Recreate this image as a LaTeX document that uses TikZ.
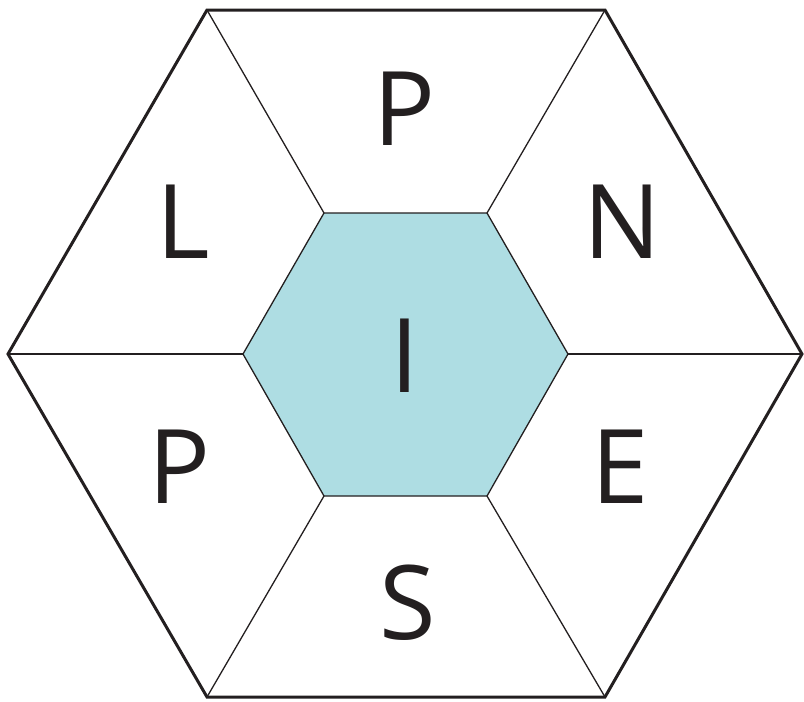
\documentclass[tikz,border=0pt]{standalone}
\usepackage{fontspec}
\setmainfont{Open Sans}
\definecolor{hexfill}{HTML}{AEDDE3}
\definecolor{ink}{HTML}{231F20}
\begin{document}
\begin{tikzpicture}[x=1pt,y=-1pt,
  outer/.style={draw=ink,line width=3pt,line join=miter},
  spoke/.style={draw=ink,line width=1.3pt},
  letter/.style={anchor=base,inner sep=0pt,text=ink,font=\fontsize{103}{103}\selectfont}]
\useasboundingbox (0,0) rectangle (804,702);
\coordinate (o1) at (8,354);
\coordinate (o2) at (207,10);
\coordinate (o3) at (605,10);
\coordinate (o4) at (802,354);
\coordinate (o5) at (605,697);
\coordinate (o6) at (207,697);
\coordinate (i1) at (243,354);
\coordinate (i2) at (324,213);
\coordinate (i3) at (487,213);
\coordinate (i4) at (568,354);
\coordinate (i5) at (487,496);
\coordinate (i6) at (324,496);
\fill[hexfill] (i1)--(i2)--(i3)--(i4)--(i5)--(i6)--cycle;
\foreach \k in {1,...,6}{\draw[spoke] (o\k)--(i\k);}
\draw[spoke] (i1)--(i2)--(i3)--(i4)--(i5)--(i6)--cycle;
\draw[outer] (o1)--(o2)--(o3)--(o4)--(o5)--(o6)--cycle;
\node[letter] (tP) at (405,145) {P};
\node[letter] (tL) at (183,258) {L};
\node[letter] (tN) at (622,258) {N};
\node[letter] (tP2) at (180,503) {P};
\node[letter] (tE) at (620,503) {E};
\node[letter] (tS) at (408,639) {S};
\node[letter] (tI) at (405,392) {I};
\end{tikzpicture}
\end{document}
